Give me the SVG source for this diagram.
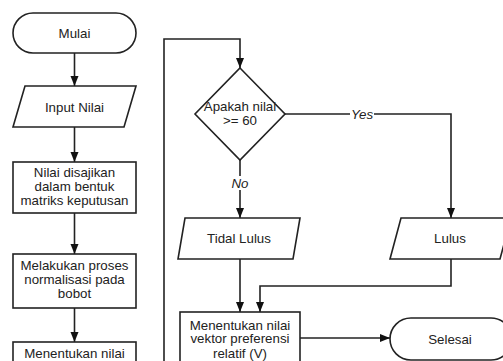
<svg xmlns="http://www.w3.org/2000/svg" width="503" height="361" viewBox="0 0 503 361">
<style>
.s{fill:#fff;stroke:#222;stroke-width:1.6}
.c{fill:none;stroke:#222;stroke-width:1.6}
text{font-family:"Liberation Sans",Arial,sans-serif;font-size:13.3px;fill:#222;text-anchor:middle}
.i{font-style:italic}
</style>
<defs>
<marker id="a" viewBox="0 0 10 10" refX="10" refY="5" markerWidth="10" markerHeight="10" markerUnits="userSpaceOnUse" orient="auto">
<path d="M0,1 L10,5 L0,9 z" fill="#111"/>
</marker>
</defs>
<g id="connectors">
<line class="c" x1="74.5" y1="53" x2="74.5" y2="86" marker-end="url(#a)"/>
<line class="c" x1="74.5" y1="127" x2="74.5" y2="162" marker-end="url(#a)"/>
<line class="c" x1="74.5" y1="213" x2="74.5" y2="254" marker-end="url(#a)"/>
<line class="c" x1="74.5" y1="308" x2="74.5" y2="342" marker-end="url(#a)"/>
<polyline class="c" points="164,370 164,39 240,39 240,68" marker-end="url(#a)"/>
<polyline class="c" points="285,114 451,114 451,218" marker-end="url(#a)"/>
<line class="c" x1="240" y1="160" x2="240" y2="218" marker-end="url(#a)"/>
<line class="c" x1="240" y1="259" x2="240" y2="312" marker-end="url(#a)"/>
<polyline class="c" points="451,259 451,286 260,286 260,312" marker-end="url(#a)"/>
<line class="c" x1="300" y1="338" x2="390" y2="338" marker-end="url(#a)"/>
<rect x="350" y="107" width="24" height="14" fill="#fff"/>
<text class="i" x="362" y="118.5">Yes</text>
<rect x="231" y="176" width="18" height="14" fill="#fff"/>
<text class="i" x="240" y="187.5">No</text>
</g>
<g id="mulai">
<rect class="s" x="13" y="13" width="123" height="40" rx="20"/>
<text x="74.5" y="37.5">Mulai</text>
</g>
<g id="input">
<polygon class="s" points="25,86 136,86 124,127 13,127"/>
<text x="74.5" y="111.5">Input Nilai</text>
</g>
<g id="matriks">
<rect class="s" x="13" y="162" width="123" height="51"/>
<text x="74.5" y="176.5">Nilai disajikan</text>
<text x="74.5" y="190.5">dalam bentuk</text>
<text x="74.5" y="204.5">matriks keputusan</text>
</g>
<g id="normalisasi">
<rect class="s" x="13" y="254" width="123" height="54"/>
<text x="74.5" y="269.5">Melakukan proses</text>
<text x="74.5" y="283.5">normalisasi pada</text>
<text x="74.5" y="298">bobot</text>
</g>
<g id="nilai">
<rect class="s" x="13" y="342" width="123" height="40"/>
<text x="74.5" y="357.5">Menentukan nilai</text>
</g>
<g id="decision">
<polygon class="s" points="240,68 285,114 240,160 195,114"/>
<text x="240" y="110.5">Apakah nilai</text>
<text x="240" y="124.5">&gt;= 60</text>
</g>
<g id="tidal">
<polygon class="s" points="185,218 300,218 293,259 178,259"/>
<text x="239" y="242.5">Tidal Lulus</text>
</g>
<g id="lulus">
<polygon class="s" points="401,218 511,218 500,259 390,259"/>
<text x="450" y="242.5">Lulus</text>
</g>
<g id="vektor">
<rect class="s" x="180" y="312" width="120" height="52"/>
<text x="240" y="329.5">Menentukan nilai</text>
<text x="240" y="343">vektor preferensi</text>
<text x="240" y="357.5">relatif (V)</text>
</g>
<g id="selesai">
<rect class="s" x="390" y="318" width="122" height="42" rx="21"/>
<text x="450" y="343.5">Selesai</text>
</g>
</svg>
